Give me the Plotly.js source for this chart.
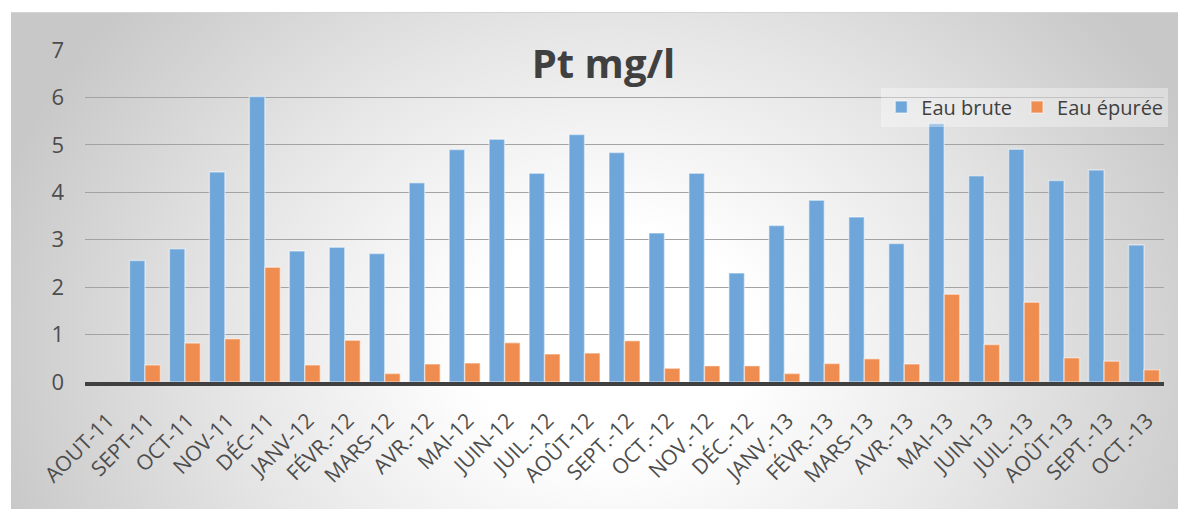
<!DOCTYPE html>
<html>
<head>
<meta charset="utf-8">
<script src="https://cdn.plot.ly/plotly-3.0.1.min.js"></script>
<style>
  html, body { margin: 0; padding: 0; background: #ffffff; }
  #wrap { position: relative; width: 1178px; height: 509px; overflow: hidden; }
  #bg {
    position: absolute; left: 11px; top: 12px; width: 1167px; height: 497px;
    background: radial-gradient(ellipse 640px 520px at 600px 330px, #ffffff 0%, #ffffff 22%, #e6e6e6 60%, #c8c8c8 100%);
    border-top: 1px solid #d4d4d4;
    box-sizing: border-box;
  }
  #chart { position: absolute; left: 0; top: 0; width: 1178px; height: 509px; }
</style>
</head>
<body>
<div id="wrap">
  <div id="bg"></div>
  <div id="chart"></div>
</div>
<script>
// Data (Pt mg/l)
const months = ["AOUT-11","SEPT-11","OCT-11","NOV-11","DÉC-11","JANV-12","FÉVR.-12","MARS-12","AVR.-12","MAI-12","JUIN-12","JUIL.-12","AOÛT-12","SEPT.-12","OCT.-12","NOV.-12","DÉC.-12","JANV.-13","FÉVR.-13","MARS-13","AVR.-13","MAI-13","JUIN-13","JUIL.-13","AOÛT-13","SEPT.-13","OCT.-13"];
const eauBrute = [null, 2.56, 2.81, 4.43, 6.02, 2.76, 2.84, 2.71, 4.20, 4.90, 5.12, 4.40, 5.22, 4.84, 3.14, 4.40, 2.30, 3.30, 3.83, 3.48, 2.92, 5.45, 4.35, 4.91, 4.25, 4.47, 2.89];
const eauEpuree = [null, 0.36, 0.82, 0.91, 2.42, 0.36, 0.88, 0.18, 0.38, 0.40, 0.83, 0.59, 0.61, 0.87, 0.29, 0.34, 0.34, 0.18, 0.39, 0.49, 0.38, 1.85, 0.79, 1.68, 0.51, 0.44, 0.26];
const yTicks = [0, 1, 2, 3, 4, 5, 6, 7];

const traces = [
  {
    type: "bar", name: "Eau brute", x: months, y: eauBrute,
    marker: { color: "#6fa6d9", line: { color: "rgba(255,255,255,0.45)", width: 1.5 } }
  },
  {
    type: "bar", name: "Eau épurée", x: months, y: eauEpuree,
    marker: { color: "#ef8c4f", line: { color: "rgba(255,255,255,0.45)", width: 1.5 } }
  }
];

const layout = {
  width: 1178, height: 509,
  margin: { l: 85, r: 10, t: 50, b: 127 },
  paper_bgcolor: "rgba(0,0,0,0)",
  plot_bgcolor: "rgba(0,0,0,0)",
  font: { family: "Open Sans, sans-serif", color: "#4d4d4d" },
  title: {
    text: "<b>Pt mg/l</b>",
    font: { family: "Open Sans, sans-serif", size: 40, color: "#404040" },
    x: 0.5123, xref: "container", xanchor: "center",
    y: 0.874, yref: "container", yanchor: "middle"
  },
  barmode: "group",
  bargap: 0.225,
  bargroupgap: 0,
  showlegend: true,
  legend: {
    orientation: "h",
    x: 1.004, xanchor: "right",
    y: 0.828, yanchor: "middle",
    bgcolor: "rgba(255,255,255,0.35)",
    font: { family: "Open Sans, sans-serif", size: 20, color: "#404040" },
    traceorder: "normal"
  },
  xaxis: {
    type: "category",
    tickangle: -45,
    tickfont: { family: "Open Sans, sans-serif", size: 21, color: "#4d4d4d" },
    showgrid: false,
    showline: true,
    linecolor: "#404040",
    linewidth: 4,
    ticks: "",
    ticklabelstandoff: 14,
    ticklabelshift: 3,
    fixedrange: true
  },
  yaxis: {
    range: [0, 7],
    tickvals: yTicks,
    ticktext: yTicks.map(String),
    tickfont: { family: "Open Sans, sans-serif", size: 22, color: "#4d4d4d" },
    showgrid: true,
    gridcolor: "#a3a3a3",
    gridwidth: 1,
    zeroline: false,
    ticks: "",
    ticklabelstandoff: 20,
    fixedrange: true
  }
};

Plotly.newPlot("chart", traces, layout, { staticPlot: true, displayModeBar: false });
</script>
</body>
</html>
